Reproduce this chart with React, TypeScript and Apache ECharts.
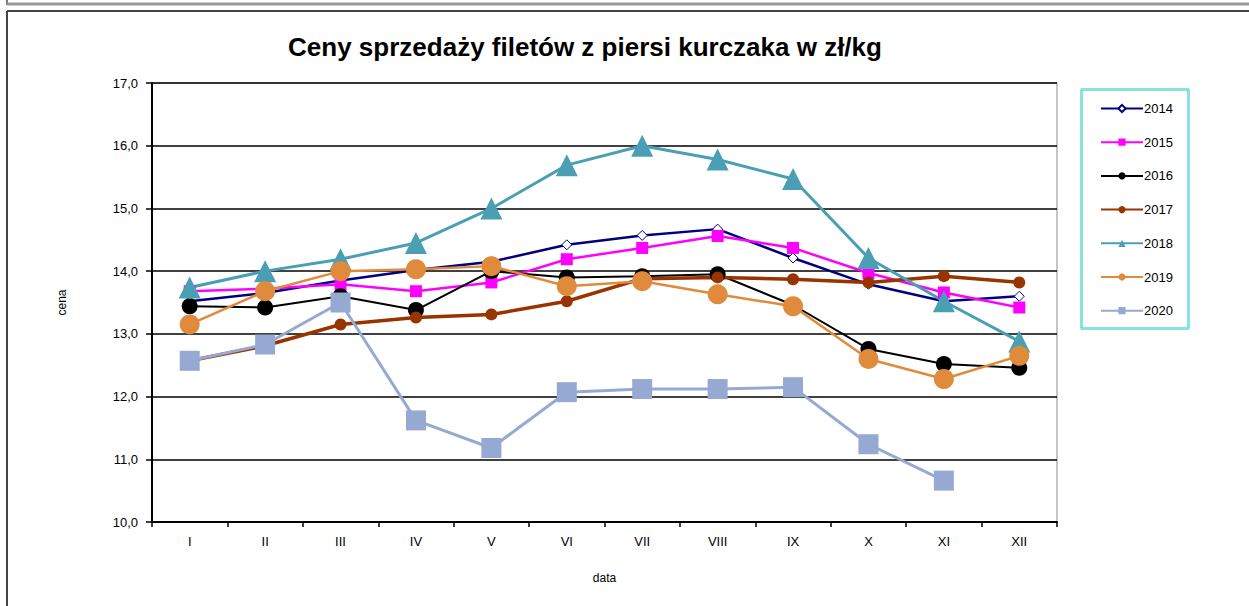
import React, { useEffect, useRef } from "react";
import * as echarts from "echarts";

const months = ["I", "II", "III", "IV", "V", "VI", "VII", "VIII", "IX", "X", "XI", "XII"];
const yTicks = [10, 11, 12, 13, 14, 15, 16, 17];
const seriesNames = ["2014", "2015", "2016", "2017", "2018", "2019", "2020"];

const v2014 = [13.52, 13.65, 13.85, 14.02, 14.15, 14.42, 14.57, 14.67, 14.21, 13.79, 13.52, 13.6];
const v2015 = [13.68, 13.72, 13.79, 13.68, 13.82, 14.19, 14.37, 14.56, 14.37, 13.97, 13.66, 13.42];
const v2016 = [13.44, 13.42, 13.6, 13.38, 14.0, 13.9, 13.92, 13.95, 13.46, 12.76, 12.52, 12.46];
const v2017 = [12.57, 12.81, 13.15, 13.26, 13.31, 13.52, 13.88, 13.9, 13.87, 13.82, 13.92, 13.82];
const v2018 = [13.74, 14.0, 14.19, 14.45, 15.0, 15.69, 16.0, 15.78, 15.47, 14.21, 13.52, 12.88];
const v2019 = [13.15, 13.68, 14.0, 14.03, 14.08, 13.76, 13.84, 13.63, 13.44, 12.6, 12.28, 12.65];
const v2020 = [12.57, 12.83, 13.5, 11.62, 11.18, 12.07, 12.12, 12.12, 12.15, 11.24, 10.66, null];

const FONT = "'Liberation Sans', Arial, sans-serif";

export default function App() {
  const ref = useRef<HTMLDivElement>(null);

  useEffect(() => {
    if (!ref.current) return;
    const chart = echarts.init(ref.current, undefined, { renderer: "svg" });

    const mk = (
      name: string,
      data: (number | null)[],
      color: string,
      symbol: string,
      size: number,
      width: number,
      extra: any = {}
    ) => ({
      name,
      type: "line",
      data,
      symbol,
      symbolSize: size,
      showSymbol: true,
      connectNulls: false,
      lineStyle: { color, width },
      itemStyle: { color, borderWidth: 0, ...extra },
      emphasis: { disabled: true },
    });

    const option: any = {
      animation: false,
      backgroundColor: "#ffffff",
      textStyle: { fontFamily: FONT },
      grid: {
        left: 152,
        top: 83,
        width: 905,
        height: 439,
        show: true,
        borderColor: "#8c8c8c",
        borderWidth: 1,
        backgroundColor: "transparent",
      },
      legend: {
        orient: "vertical",
        left: 1095,
        top: 97,
        itemWidth: 42,
        itemHeight: 9,
        itemGap: 20.7,
        data: seriesNames,
        textStyle: { fontSize: 13, color: "#000", fontFamily: FONT, padding: [0, 0, 0, -4] },
        selectedMode: false,
      },
      xAxis: {
        type: "category",
        data: months,
        boundaryGap: true,
        name: "data",
        nameLocation: "middle",
        nameGap: 50,
        nameTextStyle: { fontSize: 12, color: "#000", fontFamily: FONT },
        axisLine: { lineStyle: { color: "#000", width: 2 } },
        axisTick: { show: true, length: 5, lineStyle: { color: "#000", width: 1.5 } },
        axisLabel: { fontSize: 13, color: "#000", margin: 13, fontFamily: FONT },
        splitLine: { show: false },
      },
      yAxis: {
        type: "value",
        min: yTicks[0],
        max: yTicks[yTicks.length - 1],
        interval: 1,
        name: "cena",
        nameLocation: "middle",
        nameGap: 84,
        nameRotate: 90,
        nameTextStyle: { fontSize: 12, color: "#000", fontFamily: FONT },
        axisLine: { show: true, lineStyle: { color: "#000", width: 2 } },
        axisTick: { show: true, length: 6, lineStyle: { color: "#000", width: 1.5 } },
        axisLabel: {
          fontSize: 13,
          color: "#000",
          margin: 14,
          fontFamily: FONT,
          formatter: (v: number) => v.toFixed(1).replace(".", ","),
        },
        splitLine: { show: true, lineStyle: { color: "#000", width: 1.5 } },
      },
      graphic: [
        { type: "line", shape: { x1: 7, y1: 0, x2: 7, y2: 5 }, style: { stroke: "#777", lineWidth: 2 } },
        { type: "line", shape: { x1: 7, y1: 4, x2: 1249, y2: 4 }, style: { stroke: "#999", lineWidth: 3 } },
        { type: "line", shape: { x1: 7, y1: 11, x2: 1249, y2: 11 }, style: { stroke: "#444", lineWidth: 2 } },
        { type: "line", shape: { x1: 7, y1: 11, x2: 7, y2: 606 }, style: { stroke: "#444", lineWidth: 2 } },
        {
          type: "rect",
          shape: { x: 1081.5, y: 89.5, width: 107, height: 239 },
          style: { fill: "none", stroke: "#c4f0f0", lineWidth: 3 },
        },
        {
          type: "rect",
          shape: { x: 1081.5, y: 89.5, width: 107, height: 239 },
          style: { fill: "none", stroke: "#50d2d2", lineWidth: 3, lineDash: [1, 1] },
        },
        {
          type: "text",
          x: 585,
          y: 47,
          style: {
            text: "Ceny sprzedaży filetów z piersi kurczaka w zł/kg",
            font: `bold 26px ${FONT}`,
            fill: "#000",
            textAlign: "center",
            textVerticalAlign: "middle",
          },
        },
      ],
      series: [
        mk("2014", v2014, "#000080", "diamond", 10, 2.5, { color: "#ffffff", borderColor: "#000080", borderWidth: 1 }),
        mk("2015", v2015, "#ff00ff", "rect", 12, 2.5),
        mk("2016", v2016, "#000000", "circle", 16, 2),
        mk("2017", v2017, "#993300", "circle", 12, 3.5),
        mk("2018", v2018, "#4a9fb5", "triangle", 22, 3),
        mk("2019", v2019, "#e08a3c", "circle", 20, 2.5),
        mk("2020", v2020, "#95a9d2", "rect", 20, 3),
      ],
    };

    chart.setOption(option);
    return () => chart.dispose();
  }, []);

  return (
    <div
      ref={ref}
      style={{ position: "absolute", left: 0, top: 0, width: 1249, height: 606 }}
    />
  );
}
